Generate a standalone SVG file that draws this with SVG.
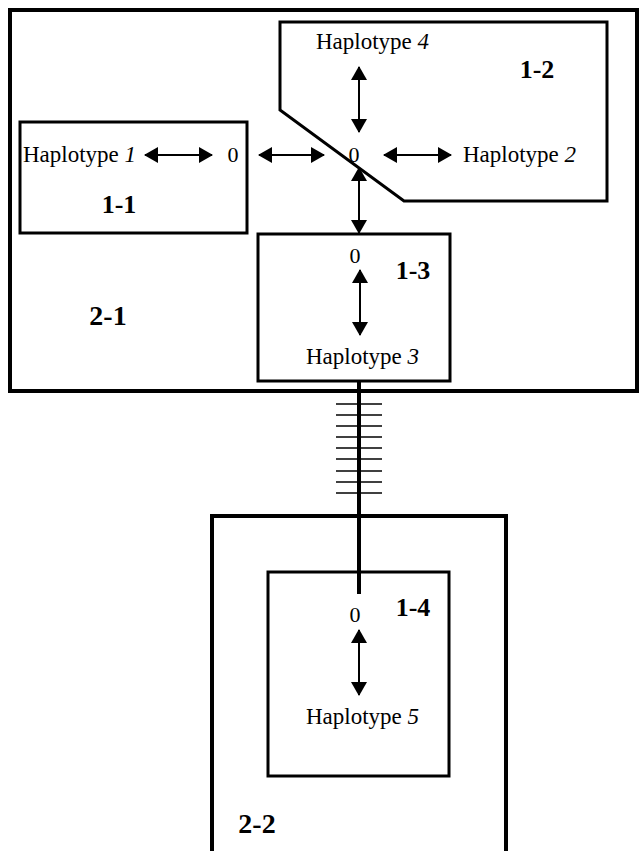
<svg xmlns="http://www.w3.org/2000/svg" width="640" height="851" viewBox="0 0 640 851" font-family="'Liberation Serif', 'Times New Roman', 'DejaVu Serif', serif">
<defs>
<style>
text{font-family:'Liberation Serif','Times New Roman','DejaVu Serif',serif;fill:#000}
.box{fill:none;stroke:#000;stroke-width:3}
.big{fill:none;stroke:#000;stroke-width:4}
.t{font-size:23px}
.z{font-size:22px;text-anchor:middle}
.lb{font-size:26px;font-weight:bold;text-anchor:middle}
.lb2{font-size:28px;font-weight:bold;text-anchor:middle}
.arr{stroke:#000;stroke-width:2;fill:none;marker-start:url(#ah);marker-end:url(#ah)}
.tick{stroke:#000;stroke-width:1.5}
</style>
<marker id="ah" markerUnits="userSpaceOnUse" markerWidth="14" markerHeight="16" viewBox="0 0 14 16" refX="13" refY="8" orient="auto-start-reverse">
<path d="M0,0 L14,8 L0,16 z" fill="#000"/>
</marker>
</defs>
<g id="box-2-1">
<rect class="big" x="10" y="10" width="627" height="381"/>
<text class="lb2" x="108" y="325">2-1</text>
</g>
<g id="box-1-1">
<rect class="box" x="20" y="122" width="227" height="111"/>
<text class="t" x="23" y="162">Haplotype <tspan font-style="italic">1</tspan></text>
<text class="z" x="233" y="162">0</text>
<text class="lb" x="119" y="213">1-1</text>
</g>
<g id="box-1-2">
<polygon class="box" points="280,22 607,22 607,201 404,201 280,110"/>
<text class="t" x="316" y="49">Haplotype <tspan font-style="italic">4</tspan></text>
<text class="lb" x="537" y="78">1-2</text>
<text class="z" x="354" y="162">0</text>
<text class="t" x="463" y="162">Haplotype <tspan font-style="italic">2</tspan></text>
</g>
<g id="box-1-3">
<rect class="box" x="258" y="234" width="192" height="147"/>
<text class="z" x="355" y="263">0</text>
<text class="lb" x="413" y="279">1-3</text>
<text class="t" x="306" y="364">Haplotype <tspan font-style="italic">3</tspan></text>
</g>
<g id="box-2-2">
<polyline class="big" points="212,851 212,516 506,516 506,851"/>
<text class="lb2" x="257" y="833">2-2</text>
</g>
<g id="box-1-4">
<rect class="box" x="268" y="572" width="181" height="204"/>
<text class="z" x="355" y="622">0</text>
<text class="lb" x="413" y="616">1-4</text>
<text class="t" x="306" y="724">Haplotype <tspan font-style="italic">5</tspan></text>
</g>
<g id="connectors">
<line class="arr" x1="145" y1="155" x2="212" y2="155"/>
<line class="arr" x1="259" y1="155" x2="324" y2="155"/>
<line class="arr" x1="384" y1="155" x2="451" y2="155"/>
<line class="arr" x1="359" y1="67" x2="359" y2="132"/>
<line class="arr" x1="359" y1="168" x2="359" y2="233"/>
<line class="arr" x1="360" y1="270" x2="360" y2="335"/>
<line class="arr" x1="359" y1="630" x2="359" y2="695"/>
<line x1="359" y1="381" x2="359" y2="594" stroke="#000" stroke-width="4"/>
<g class="tick">
<line x1="336" y1="404" x2="382" y2="404"/>
<line x1="336" y1="415" x2="382" y2="415"/>
<line x1="336" y1="426" x2="382" y2="426"/>
<line x1="336" y1="437" x2="382" y2="437"/>
<line x1="336" y1="448" x2="382" y2="448"/>
<line x1="336" y1="459" x2="382" y2="459"/>
<line x1="336" y1="471" x2="382" y2="471"/>
<line x1="336" y1="482" x2="382" y2="482"/>
<line x1="336" y1="493" x2="382" y2="493"/>
</g>
</g>
</svg>
